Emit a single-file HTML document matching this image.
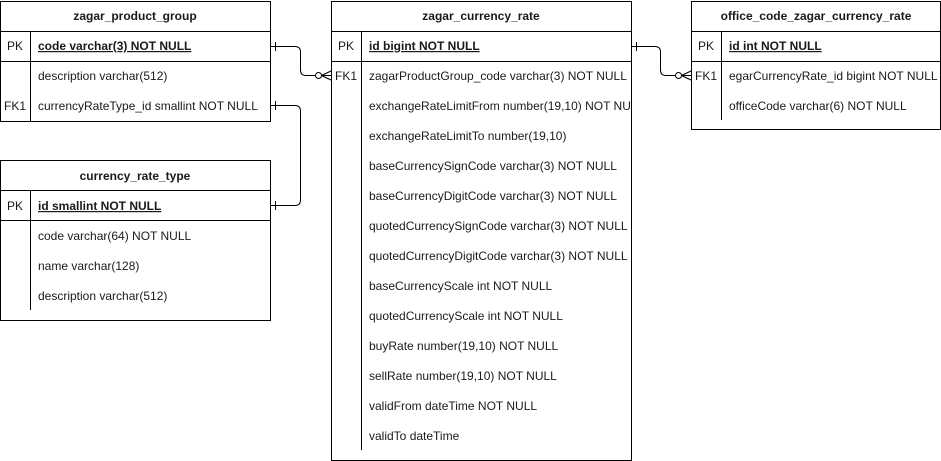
<!DOCTYPE html>
<html><head><meta charset="utf-8"><style>
html,body{margin:0;padding:0;background:#fff}
svg{display:block}
text{font-family:"Liberation Sans",Arial,sans-serif;font-size:12px;fill:#1a1a1a}
.h{font-weight:bold;text-anchor:middle}
.pk{font-weight:bold;text-decoration:underline}
.k{text-anchor:middle}
</style></head><body>
<svg width="941" height="461" viewBox="0 0 941 461" xmlns="http://www.w3.org/2000/svg">
<defs><clipPath id="c3"><rect x="331" y="0" width="299" height="461"/></clipPath></defs>
<g fill="none" stroke="#000" stroke-width="1">
<!-- table 1 -->
<rect x="0.5" y="1.5" width="270" height="120"/>
<line x1="0" y1="31.5" x2="270" y2="31.5"/>
<line x1="0" y1="61.5" x2="270" y2="61.5"/>
<line x1="30.5" y1="31" x2="30.5" y2="121"/>
<!-- table 2 -->
<rect x="0.5" y="160.5" width="270" height="160"/>
<line x1="0" y1="190.5" x2="270" y2="190.5"/>
<line x1="0" y1="220.5" x2="270" y2="220.5"/>
<line x1="30.5" y1="190" x2="30.5" y2="310"/>
<!-- table 3 -->
<rect x="331.5" y="1.5" width="300" height="459"/>
<line x1="331" y1="31.5" x2="631" y2="31.5"/>
<line x1="331" y1="61.5" x2="631" y2="61.5"/>
<line x1="361.5" y1="31" x2="361.5" y2="450"/>
<!-- table 4 -->
<rect x="691.5" y="1.5" width="249" height="128"/>
<line x1="691" y1="31.5" x2="941" y2="31.5"/>
<line x1="691" y1="61.5" x2="941" y2="61.5"/>
<line x1="721.5" y1="31" x2="721.5" y2="120"/>
<!-- connectors -->
<path d="M270,46.5 H295 Q300.5,46.5 300.5,52 V70 Q300.5,75.5 306,75.5 H315"/>
<line x1="275.5" y1="42" x2="275.5" y2="51"/>
<circle cx="318.5" cy="75.5" r="3"/>
<path d="M321.5,75.5 L331,71 M321.5,75.5 H331 M321.5,75.5 L331,80"/>
<path d="M270,105.5 H295 Q300.5,105.5 300.5,111 V200 Q300.5,205.5 295,205.5 H270"/>
<line x1="275.5" y1="101" x2="275.5" y2="110"/>
<line x1="275.5" y1="201" x2="275.5" y2="210"/>
<path d="M631,46.5 H655 Q660.5,46.5 660.5,52 V70 Q660.5,75.5 666,75.5 H675"/>
<line x1="636.5" y1="42" x2="636.5" y2="51"/>
<circle cx="678.5" cy="75.5" r="3"/>
<path d="M681.5,75.5 L691,71 M681.5,75.5 H691 M681.5,75.5 L691,80"/>
</g>
<!-- table1 text -->
<text class="h" x="135" y="20">zagar_product_group</text>
<text class="k" x="15" y="50">PK</text>
<text class="pk" x="38" y="50">code varchar(3) NOT NULL</text>
<text x="38" y="80">description varchar(512)</text>
<text class="k" x="15" y="110">FK1</text>
<text x="38" y="110">currencyRateType_id smallint NOT NULL</text>
<!-- table2 -->
<text class="h" x="135" y="180">currency_rate_type</text>
<text class="k" x="15" y="210">PK</text>
<text class="pk" x="38" y="210">id smallint NOT NULL</text>
<text x="38" y="240">code varchar(64) NOT NULL</text>
<text x="38" y="270">name varchar(128)</text>
<text x="38" y="300">description varchar(512)</text>
<!-- table3 -->
<text class="h" x="481" y="20">zagar_currency_rate</text>
<text class="k" x="346" y="50">PK</text>
<text class="pk" x="369" y="50">id bigint NOT NULL</text>
<text class="k" x="346" y="80">FK1</text>
<g clip-path="url(#c3)">
<text x="369" y="80">zagarProductGroup_code varchar(3) NOT NULL</text>
<text x="369" y="110">exchangeRateLimitFrom number(19,10) NOT NULL</text>
<text x="369" y="140">exchangeRateLimitTo number(19,10)</text>
<text x="369" y="170">baseCurrencySignCode varchar(3) NOT NULL</text>
<text x="369" y="200">baseCurrencyDigitCode varchar(3) NOT NULL</text>
<text x="369" y="230">quotedCurrencySignCode varchar(3) NOT NULL</text>
<text x="369" y="260">quotedCurrencyDigitCode varchar(3) NOT NULL</text>
<text x="369" y="290">baseCurrencyScale int NOT NULL</text>
<text x="369" y="320">quotedCurrencyScale int NOT NULL</text>
<text x="369" y="350">buyRate number(19,10) NOT NULL</text>
<text x="369" y="380">sellRate number(19,10) NOT NULL</text>
<text x="369" y="410">validFrom dateTime NOT NULL</text>
<text x="369" y="440">validTo dateTime</text>
</g>
<!-- table4 -->
<text class="h" x="816" y="20">office_code_zagar_currency_rate</text>
<text class="k" x="706" y="50">PK</text>
<text class="pk" x="729" y="50">id int NOT NULL</text>
<text class="k" x="706" y="80">FK1</text>
<text x="729" y="80">egarCurrencyRate_id bigint NOT NULL</text>
<text x="729" y="110">officeCode varchar(6) NOT NULL</text>
</svg>
</body></html>
